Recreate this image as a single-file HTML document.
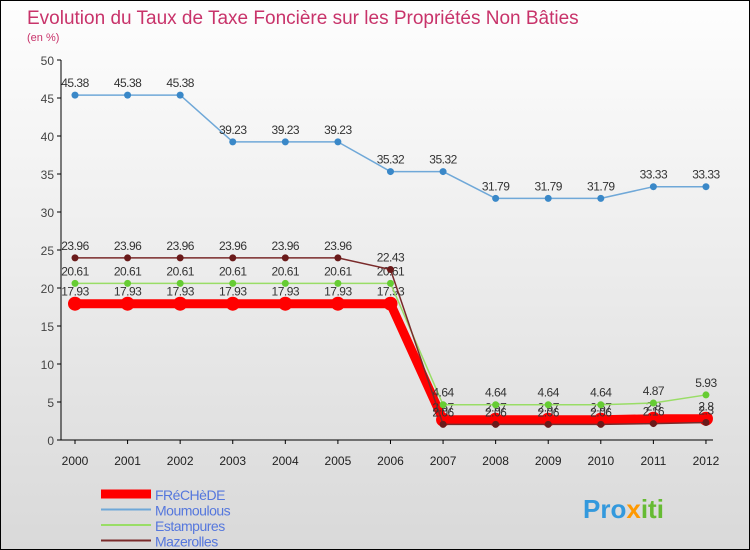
<!DOCTYPE html>
<html><head><meta charset="utf-8"><style>
body{margin:0;}
#wrap{width:748px;height:548px;border:1px solid #000;position:relative;background:linear-gradient(#fefefe,#d9d9d9);font-family:"Liberation Sans",sans-serif;overflow:hidden}
</style></head><body>
<div id="wrap">
<svg id="svg" width="748" height="548"></svg>
</div>
<script>
const years=["2000","2001","2002","2003","2004","2005","2006","2007","2008","2009","2010","2011","2012"];
const fre=[17.93,17.93,17.93,17.93,17.93,17.93,17.93,2.67,2.67,2.67,2.67,2.8,2.8];
const mou=[45.38,45.38,45.38,39.23,39.23,39.23,35.32,35.32,31.79,31.79,31.79,33.33,33.33];
const est=[20.61,20.61,20.61,20.61,20.61,20.61,20.61,4.64,4.64,4.64,4.64,4.87,5.93];
const maz=[23.96,23.96,23.96,23.96,23.96,23.96,22.43,2.06,2.06,2.06,2.06,2.16,2.3];
const yTicks=[0,5,10,15,20,25,30,35,40,45,50];
const NS="http://www.w3.org/2000/svg";
const svg=document.getElementById('svg');
const X=i=>74+i*52.58, Y=v=>439-v*7.6;
function el(t,a,p){const e=document.createElementNS(NS,t);for(const k in a)e.setAttribute(k,a[k]);(p||svg).appendChild(e);return e;}
function txt(x,y,s,a){const e=el('text',Object.assign({x:x,y:y},a));e.textContent=s;return e;}
let t=txt(26,23,"Evolution du Taux de Taxe Foncière sur les Propriétés Non Bâties",{fill:"#c8336a","font-size":19});


t=txt(26,40,"(en %)",{fill:"#c8336a","font-size":11});


// axes
let a=el('line',{x1:60,y1:59,x2:60,y2:439,stroke:"#000"});


a=el('line',{x1:60,y1:439,x2:712,y2:439,stroke:"#000"});


yTicks.forEach(v=>{el('line',{x1:56,x2:60,y1:Y(v),y2:Y(v),stroke:"#000"});
 const l=txt(53,Y(v)+5,String(v),{fill:"#444","font-size":12,"text-anchor":"end"});
 
 });
years.forEach((y,i)=>{el('line',{x1:X(i),x2:X(i),y1:439,y2:443,stroke:"#000"});
 const l=txt(X(i),464,y,{fill:"#222","font-size":12,"text-anchor":"middle"});
 
 });
function series(d,color,w,r,dot,name){
 const p=el('polyline',{points:d.map((v,i)=>X(i)+","+Y(v)).join(" "),fill:"none",stroke:color,"stroke-width":w,"stroke-linejoin":"round"});
 
 
 d.forEach((v,i)=>{const c=el('circle',{cx:X(i),cy:Y(v),r:r,fill:dot});
  
  
  const l=txt(X(i),Y(v)-8,String(v),{fill:"#333","font-size":12,"text-anchor":"middle","letter-spacing":"-0.5"});
  
  });
}
series(mou,"#6fa8d8",1.5,3.5,"#3a88c8","moumoulous");
series(fre,"#ff0000",9,7,"#ff0000","frechede");
series(est,"#99dd66",1.5,3.5,"#66cc33","estampures");
series(maz,"#7a2a2a",1.5,3.5,"#6a1a1a","mazerolles");
const legNames=["FRéCHèDE","Moumoulous","Estampures","Mazerolles"];
const legCol=["#ff0000","#6fa8d8","#99dd66","#7a2a2a"],legW=[9,2,2,2];
legNames.forEach((n,i)=>{const y=493+i*15.5;
 const l=el('line',{x1:100,x2:150,y1:y,y2:y,stroke:legCol[i],"stroke-width":legW[i]});
 
 
 const tx=txt(154,y+6,n,{fill:"#5577dd","font-size":14,"letter-spacing":"-0.5"});
 
 });
const logo=txt(582,517,"",{"font-size":26,"font-weight":"bold"});


[["Pro","#3399dd"],["x","#ff9900"],["iti","#66bb33"]].forEach(([s,c])=>{const ts=el('tspan',{fill:c},logo);ts.textContent=s;});
</script>
</body></html>
